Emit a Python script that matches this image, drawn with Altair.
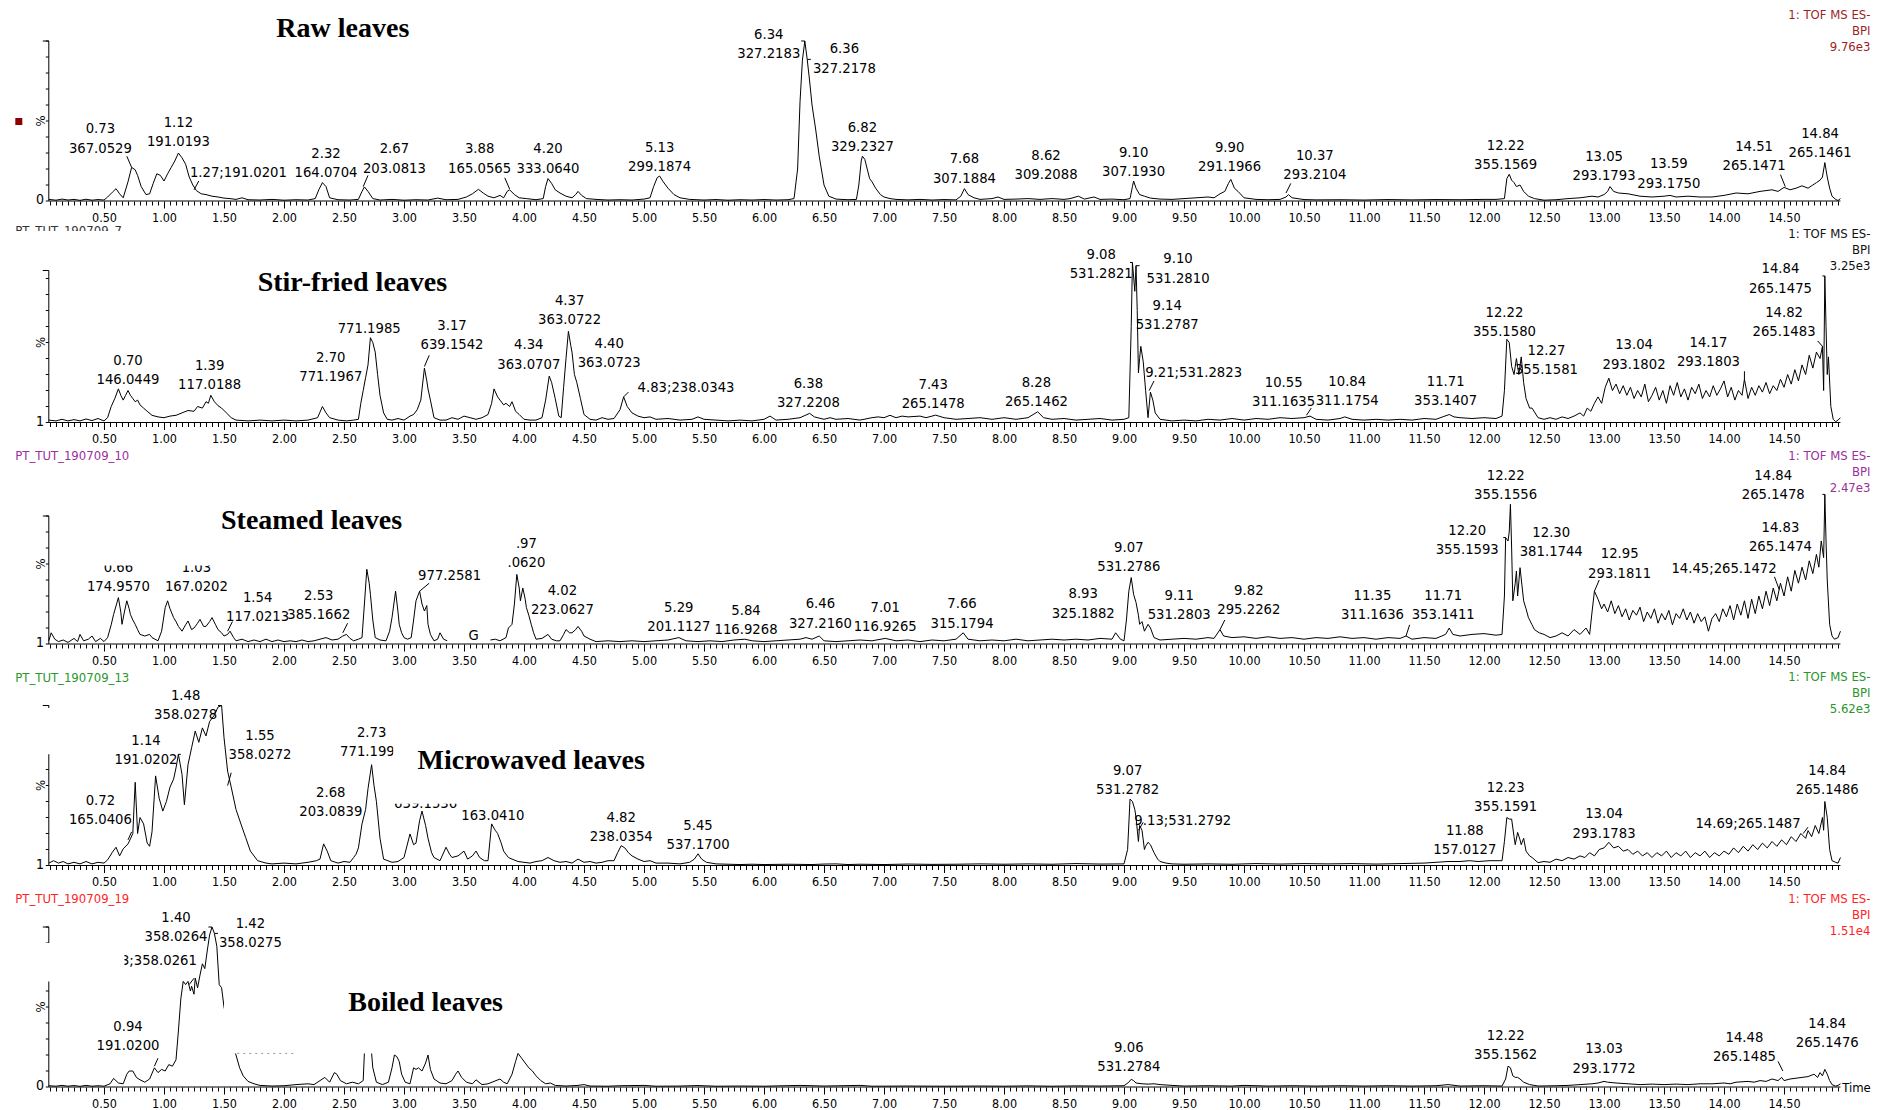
import altair as alt
import pandas as pd

# ---------------- data ----------------
RAW = [(0.04,1.0),(0.1,0.5),(0.15,1.2),(0.2,0.6),(0.25,1.0),(0.3,0.4),(0.35,1.1),(0.4,0.5),(0.45,0.9),(0.5,0.6),(0.53,2.5),(0.57,5.5),(0.6,7.7),(0.63,4.5),(0.66,2.0),(0.7,12.0),(0.73,21.0),(0.76,19.5),(0.78,16.0),(0.81,9.0),(0.85,4.0),(0.88,4.5),(0.91,11.0),(0.94,17.0),(0.97,16.0),(1.0,12.5),(1.03,17.0),(1.06,21.0),(1.09,25.0),(1.12,30.0),(1.15,27.0),(1.18,23.0),(1.21,15.0),(1.24,10.0),(1.27,6.5),(1.31,4.5),(1.35,4.0),(1.4,3.0),(1.45,2.5),(1.5,1.8),(1.55,1.5),(1.6,1.0),(1.65,2.0),(1.7,0.8),(1.8,0.6),(1.9,1.0),(2.0,0.5),(2.1,0.8),(2.2,0.6),(2.26,1.5),(2.29,7.0),(2.32,11.5),(2.35,9.0),(2.38,2.0),(2.45,0.8),(2.55,0.6),(2.62,1.0),(2.65,6.0),(2.67,8.8),(2.7,6.0),(2.74,1.5),(2.8,0.6),(2.9,1.0),(3.0,0.5),(3.1,0.8),(3.2,0.6),(3.28,1.8),(3.35,0.8),(3.45,1.0),(3.52,2.5),(3.57,4.5),(3.62,7.3),(3.66,5.0),(3.7,3.0),(3.75,2.0),(3.8,3.5),(3.83,2.0),(3.86,6.0),(3.88,7.0),(3.92,4.0),(3.96,2.0),(4.02,1.5),(4.1,0.8),(4.16,1.5),(4.18,9.0),(4.2,14.0),(4.23,11.0),(4.26,7.0),(4.3,5.0),(4.35,3.0),(4.4,2.0),(4.43,4.0),(4.45,6.0),(4.48,3.5),(4.52,1.5),(4.6,1.0),(4.7,0.6),(4.8,0.8),(4.9,0.6),(5.0,1.2),(5.05,2.0),(5.08,9.0),(5.11,14.6),(5.13,15.6),(5.16,12.0),(5.2,8.0),(5.25,4.0),(5.3,2.0),(5.38,1.0),(5.5,0.6),(5.6,0.9),(5.7,0.5),(5.8,0.8),(5.9,0.6),(6.0,0.9),(6.1,0.6),(6.2,0.8),(6.25,1.5),(6.28,20.0),(6.3,62.0),(6.32,88.0),(6.34,100.0),(6.36,88.5),(6.38,75.0),(6.4,60.0),(6.43,45.0),(6.46,28.0),(6.5,10.0),(6.54,3.0),(6.6,1.2),(6.7,0.8),(6.77,1.0),(6.79,10.0),(6.81,25.0),(6.82,28.0),(6.84,26.0),(6.86,20.0),(6.88,14.0),(6.9,12.0),(6.93,8.0),(6.97,4.0),(7.0,2.5),(7.05,1.5),(7.1,1.0),(7.2,0.7),(7.3,1.0),(7.4,0.6),(7.5,0.9),(7.6,0.7),(7.64,3.0),(7.67,7.7),(7.7,4.0),(7.75,2.0),(7.8,1.0),(7.9,1.5),(7.95,2.5),(8.0,1.0),(8.1,1.2),(8.2,1.5),(8.3,1.0),(8.4,1.5),(8.5,1.0),(8.55,1.5),(8.62,3.0),(8.67,1.2),(8.75,2.5),(8.8,1.0),(8.9,1.2),(9.0,0.8),(9.05,1.5),(9.07,9.0),(9.08,12.5),(9.1,8.0),(9.13,4.0),(9.17,3.0),(9.22,1.8),(9.3,1.2),(9.4,1.0),(9.5,1.5),(9.6,2.0),(9.7,2.5),(9.75,2.0),(9.8,4.5),(9.84,6.0),(9.87,11.0),(9.89,13.5),(9.92,8.0),(9.95,6.0),(10.0,2.0),(10.1,1.0),(10.2,0.8),(10.3,1.0),(10.35,2.5),(10.37,4.0),(10.4,2.0),(10.5,0.9),(10.6,0.7),(10.8,0.8),(11.0,0.6),(11.2,0.9),(11.4,0.7),(11.6,0.9),(11.8,0.8),(12.0,1.0),(12.1,1.0),(12.17,1.5),(12.19,14.0),(12.21,16.7),(12.23,13.0),(12.25,11.5),(12.27,9.0),(12.3,10.0),(12.33,6.0),(12.37,3.0),(12.42,1.5),(12.5,0.5),(12.6,0.8),(12.7,1.5),(12.8,2.0),(12.9,3.0),(12.95,2.5),(13.0,4.0),(13.03,6.0),(13.05,9.0),(13.08,6.0),(13.12,5.0),(13.2,4.5),(13.3,3.0),(13.4,2.5),(13.5,3.0),(13.55,3.5),(13.6,2.5),(13.7,3.0),(13.8,2.5),(13.9,2.5),(14.0,3.5),(14.1,5.0),(14.2,4.5),(14.3,6.0),(14.4,7.0),(14.45,6.0),(14.5,8.5),(14.55,7.0),(14.6,8.0),(14.65,9.5),(14.7,8.0),(14.74,10.0),(14.77,11.5),(14.8,13.0),(14.82,15.0),(14.84,24.0),(14.86,15.0),(14.88,8.0),(14.9,3.0),(14.93,1.0),(14.95,0.3),(14.97,1.5)]

STIR = [(0.04,1.5),(0.1,1.0),(0.15,2.0),(0.2,1.0),(0.25,1.8),(0.3,1.0),(0.35,2.2),(0.4,1.2),(0.45,2.5),(0.5,1.0),(0.53,3.0),(0.56,10.0),(0.59,15.0),(0.62,21.0),(0.64,17.0),(0.66,14.0),(0.68,17.0),(0.7,20.0),(0.72,17.0),(0.74,15.0),(0.76,13.0),(0.78,14.0),(0.8,11.0),(0.83,9.0),(0.86,7.0),(0.9,4.5),(0.95,3.5),(1.0,3.0),(1.05,4.0),(1.1,4.5),(1.15,6.0),(1.2,7.5),(1.25,7.0),(1.28,10.0),(1.32,9.0),(1.35,13.0),(1.37,12.0),(1.39,17.0),(1.42,13.0),(1.45,10.5),(1.48,9.0),(1.52,6.0),(1.56,3.0),(1.6,1.5),(1.7,1.0),(1.8,1.5),(1.9,1.0),(2.0,1.5),(2.1,1.0),(2.2,1.5),(2.28,3.0),(2.3,6.5),(2.32,10.0),(2.35,6.0),(2.38,3.0),(2.45,1.5),(2.52,1.0),(2.58,1.5),(2.62,2.0),(2.64,12.0),(2.66,20.0),(2.68,28.0),(2.7,36.0),(2.72,53.0),(2.74,50.0),(2.76,44.0),(2.78,30.0),(2.8,17.0),(2.83,6.0),(2.86,2.0),(2.9,1.5),(2.95,2.5),(3.0,1.5),(3.05,4.0),(3.08,5.0),(3.11,8.0),(3.14,14.0),(3.17,34.0),(3.19,26.0),(3.2,21.0),(3.22,14.0),(3.25,3.0),(3.3,1.5),(3.35,1.5),(3.4,3.0),(3.45,2.0),(3.5,4.0),(3.55,3.0),(3.6,2.0),(3.65,3.0),(3.7,5.0),(3.73,12.0),(3.75,21.0),(3.78,16.0),(3.8,14.0),(3.83,11.0),(3.85,12.0),(3.88,10.0),(3.9,13.0),(3.93,7.0),(3.96,5.0),(4.0,2.0),(4.05,1.5),(4.1,1.5),(4.15,3.0),(4.18,14.0),(4.21,29.0),(4.23,25.0),(4.26,15.0),(4.29,4.0),(4.31,3.0),(4.33,22.0),(4.35,40.0),(4.37,57.0),(4.39,48.0),(4.4,44.0),(4.42,30.0),(4.44,25.0),(4.47,15.0),(4.5,5.0),(4.55,2.0),(4.6,1.5),(4.65,3.0),(4.7,2.0),(4.75,2.5),(4.8,8.0),(4.83,16.0),(4.86,10.0),(4.9,6.0),(4.95,4.0),(5.0,3.0),(5.05,3.5),(5.1,2.0),(5.2,2.5),(5.3,1.5),(5.4,2.0),(5.45,3.5),(5.5,2.0),(5.6,1.5),(5.7,1.0),(5.8,1.5),(5.9,1.0),(6.0,2.0),(6.05,4.0),(6.1,1.5),(6.2,2.0),(6.3,3.0),(6.38,5.7),(6.42,3.5),(6.5,2.0),(6.55,3.0),(6.6,2.0),(6.7,2.5),(6.8,1.5),(6.9,3.0),(6.95,3.5),(7.0,3.0),(7.05,4.5),(7.1,3.0),(7.15,4.0),(7.2,3.5),(7.3,4.0),(7.35,3.0),(7.43,4.6),(7.5,3.0),(7.6,2.0),(7.7,2.5),(7.8,3.0),(7.9,2.0),(8.0,3.0),(8.1,2.0),(8.2,3.0),(8.28,6.7),(8.33,3.0),(8.4,2.0),(8.5,2.5),(8.6,1.5),(8.7,2.0),(8.8,2.5),(8.9,1.5),(9.0,2.0),(9.04,3.0),(9.06,60.0),(9.07,100.0),(9.09,82.0),(9.1,98.0),(9.11,70.0),(9.12,31.0),(9.13,40.0),(9.14,47.6),(9.16,38.0),(9.18,20.0),(9.2,3.0),(9.22,19.0),(9.24,14.0),(9.26,6.0),(9.3,2.0),(9.4,1.0),(9.5,1.5),(9.6,1.0),(9.7,2.0),(9.8,1.5),(9.9,2.5),(10.0,1.5),(10.1,2.5),(10.2,2.0),(10.3,3.0),(10.4,2.5),(10.5,3.0),(10.55,4.0),(10.6,2.0),(10.7,1.5),(10.8,2.5),(10.84,3.5),(10.9,2.0),(11.0,1.5),(11.1,2.0),(11.2,1.5),(11.3,2.0),(11.4,1.5),(11.5,2.5),(11.6,2.0),(11.71,5.0),(11.75,3.5),(11.8,3.0),(11.9,2.5),(12.0,3.0),(12.1,2.5),(12.15,4.0),(12.17,20.0),(12.19,52.0),(12.21,50.0),(12.23,35.0),(12.25,30.0),(12.27,40.0),(12.29,30.0),(12.31,41.0),(12.33,25.0),(12.35,15.0),(12.38,9.0),(12.4,9.0),(12.45,3.0),(12.5,2.0),(12.55,3.0),(12.6,2.0),(12.65,3.5),(12.7,2.5),(12.75,4.0),(12.8,6.0),(12.83,4.0),(12.86,9.0),(12.89,7.0),(12.92,12.0),(12.95,16.0),(12.98,12.0),(13.01,22.0),(13.04,27.7),(13.07,20.0),(13.1,24.0),(13.13,18.0),(13.16,23.0),(13.19,17.0),(13.22,22.0),(13.25,15.0),(13.28,20.0),(13.31,16.0),(13.34,24.0),(13.37,13.0),(13.4,17.0),(13.43,22.0),(13.46,14.0),(13.49,20.0),(13.52,12.0),(13.55,23.0),(13.58,17.0),(13.61,25.0),(13.64,16.0),(13.67,21.0),(13.7,14.0),(13.73,22.0),(13.76,18.0),(13.79,24.0),(13.82,15.0),(13.85,20.0),(13.88,16.0),(13.91,23.0),(13.94,17.0),(13.97,21.0),(14.0,26.0),(14.03,16.0),(14.06,22.0),(14.09,14.0),(14.12,20.0),(14.15,17.0),(14.17,27.0),(14.2,15.0),(14.23,22.0),(14.26,17.0),(14.29,23.0),(14.32,19.0),(14.35,25.0),(14.38,18.0),(14.41,23.0),(14.44,20.0),(14.47,27.0),(14.5,22.0),(14.53,30.0),(14.56,24.0),(14.59,33.0),(14.62,26.0),(14.65,36.0),(14.68,30.0),(14.71,42.0),(14.74,34.0),(14.77,44.0),(14.8,40.0),(14.82,47.6),(14.83,20.0),(14.84,91.6),(14.85,60.0),(14.86,30.0),(14.87,41.0),(14.89,10.0),(14.91,2.0),(14.93,0.5),(14.95,1.5),(14.97,3.0)]

STEAM_A = [(0.04,2.0),(0.06,7.0),(0.09,3.0),(0.12,1.5),(0.16,2.5),(0.2,1.0),(0.25,3.5),(0.28,1.5),(0.3,6.0),(0.33,2.0),(0.37,3.0),(0.4,5.0),(0.43,1.5),(0.47,3.5),(0.5,1.5),(0.53,4.0),(0.56,12.0),(0.58,18.5),(0.62,29.0),(0.64,20.0),(0.65,12.3),(0.67,20.0),(0.69,27.0),(0.71,22.0),(0.72,18.5),(0.74,15.0),(0.76,12.3),(0.78,9.0),(0.8,6.0),(0.84,5.0),(0.88,6.0),(0.9,4.0),(0.95,2.0),(0.98,8.0),(1.01,22.7),(1.03,27.0),(1.05,22.0),(1.08,16.5),(1.1,14.0),(1.12,11.0),(1.15,8.0),(1.18,12.0),(1.2,14.4),(1.23,9.0),(1.25,10.0),(1.28,13.0),(1.3,15.4),(1.33,11.0),(1.35,11.0),(1.38,14.0),(1.4,16.5),(1.43,12.0),(1.45,9.0),(1.48,7.0),(1.5,5.0),(1.53,6.0),(1.55,8.0),(1.58,4.0),(1.6,2.0),(1.65,3.0),(1.7,1.5),(1.75,2.5),(1.8,1.5),(1.85,3.0),(1.9,1.5),(1.95,2.5),(2.0,1.5),(2.05,2.0),(2.1,1.5),(2.15,2.5),(2.2,1.5),(2.25,2.0),(2.3,3.0),(2.35,4.0),(2.4,2.5),(2.45,3.0),(2.49,5.0),(2.52,6.0),(2.55,3.5),(2.58,2.0),(2.62,3.0),(2.65,4.0),(2.67,25.0),(2.69,46.7),(2.71,38.0),(2.72,31.0),(2.74,15.0),(2.76,4.0),(2.8,2.5),(2.85,2.0),(2.88,8.0),(2.9,16.5),(2.93,33.0),(2.95,20.0),(2.96,12.3),(2.98,7.0),(3.0,4.0),(3.03,3.0),(3.06,4.0),(3.08,15.0),(3.1,27.0),(3.13,33.0),(3.15,25.0),(3.17,20.6),(3.19,24.0),(3.2,12.3),(3.22,6.0),(3.25,2.0),(3.28,3.0),(3.3,7.0),(3.33,3.0),(3.36,2.0)]

STEAM_B = [(3.72,2.5),(3.76,3.0),(3.8,2.0),(3.85,4.0),(3.87,10.0),(3.9,12.3),(3.92,25.0),(3.94,43.5),(3.96,35.0),(3.97,27.0),(3.99,35.0),(4.01,28.0),(4.02,22.7),(4.04,18.0),(4.06,12.3),(4.08,7.0),(4.1,3.0),(4.15,3.5),(4.2,6.0),(4.23,3.0),(4.27,2.0),(4.3,2.0),(4.33,6.0),(4.35,9.0),(4.38,7.0),(4.4,7.0),(4.43,9.0),(4.45,11.0),(4.48,8.0),(4.5,5.0),(4.55,3.0),(4.6,1.5),(4.7,2.0),(4.8,1.5),(4.9,2.0),(5.0,1.5),(5.1,2.0),(5.2,2.5),(5.29,4.0),(5.35,2.0),(5.45,1.5),(5.55,2.0),(5.65,1.5),(5.75,2.5),(5.84,3.0),(5.9,2.0),(6.0,1.5),(6.1,2.0),(6.2,2.5),(6.3,3.0),(6.35,4.0),(6.4,3.0),(6.46,5.0),(6.5,2.0),(6.6,1.5),(6.7,2.0),(6.8,2.5),(6.9,2.0),(7.01,3.5),(7.1,2.0),(7.2,2.5),(7.3,1.5),(7.4,2.5),(7.5,2.0),(7.6,3.0),(7.66,7.0),(7.7,3.0),(7.8,2.0),(7.9,2.5),(8.0,2.0),(8.1,3.0),(8.2,2.0),(8.3,2.5),(8.4,3.0),(8.5,2.5),(8.6,3.0),(8.7,2.5),(8.8,3.5),(8.9,3.0),(8.93,7.0),(8.97,3.0),(9.0,2.0),(9.02,15.0),(9.04,33.0),(9.06,41.5),(9.08,31.0),(9.1,26.0),(9.12,18.0),(9.13,12.3),(9.15,14.0),(9.17,8.0),(9.2,12.3),(9.22,10.0),(9.25,4.0),(9.3,2.5),(9.4,3.0),(9.5,3.5),(9.6,3.0),(9.7,4.0),(9.75,3.5),(9.8,9.0),(9.83,5.0),(9.9,4.0),(10.0,4.5),(10.1,3.5),(10.2,4.5),(10.3,3.5),(10.4,4.0),(10.5,3.0),(10.6,4.0),(10.7,3.5),(10.8,4.5),(10.9,3.5),(11.0,4.0),(11.1,3.0),(11.2,4.0),(11.3,3.5),(11.35,5.0),(11.4,3.0),(11.5,4.0),(11.6,3.5),(11.68,6.0),(11.71,10.0),(11.74,6.0),(11.8,5.0),(11.9,6.0),(12.0,6.5),(12.1,5.5),(12.15,6.0),(12.17,30.0),(12.18,66.5),(12.2,64.4),(12.21,70.0),(12.22,87.3),(12.23,60.0),(12.24,27.0),(12.26,38.0),(12.27,45.6),(12.28,30.0),(12.3,47.7),(12.33,27.0),(12.35,22.0),(12.37,16.5),(12.4,12.0),(12.42,9.0),(12.46,7.0),(12.5,6.0),(12.55,4.0),(12.6,5.0),(12.65,7.0),(12.7,5.0),(12.75,9.0),(12.8,6.0),(12.85,10.0),(12.88,6.0),(12.9,20.0),(12.92,33.0),(12.95,28.0),(12.98,22.0),(13.0,25.0),(13.03,20.0),(13.06,27.0),(13.09,19.0),(13.12,24.0),(13.15,17.0),(13.18,22.0),(13.21,15.0),(13.24,21.0),(13.27,18.0),(13.3,23.0),(13.33,14.0),(13.36,20.0),(13.39,16.0),(13.42,22.0),(13.45,13.0),(13.48,19.0),(13.51,15.0),(13.54,21.0),(13.57,12.0),(13.6,19.0),(13.63,16.0),(13.66,22.0),(13.69,15.0),(13.72,20.0),(13.75,13.0),(13.78,19.0),(13.81,14.0),(13.84,17.0),(13.87,8.0),(13.9,16.0),(13.93,19.0),(13.96,14.0),(13.99,22.0),(14.02,17.0),(14.05,24.0),(14.08,15.0),(14.11,25.0),(14.14,18.0),(14.17,27.0),(14.2,16.0),(14.23,28.0),(14.26,19.0),(14.29,30.0),(14.32,22.0),(14.35,33.0),(14.38,24.0),(14.41,35.0),(14.44,27.0),(14.47,38.0),(14.5,30.0),(14.53,42.0),(14.56,33.0),(14.59,46.0),(14.62,38.0),(14.65,48.0),(14.68,40.0),(14.71,52.0),(14.74,44.0),(14.77,56.0),(14.79,48.0),(14.81,64.4),(14.83,54.0),(14.84,93.5),(14.85,64.4),(14.86,40.0),(14.88,12.3),(14.9,5.0),(14.92,3.0),(14.95,4.0),(14.97,8.0)]

MICRO = [(0.04,1.5),(0.08,3.0),(0.12,1.5),(0.16,2.5),(0.2,1.0),(0.25,2.0),(0.3,1.0),(0.35,2.5),(0.4,1.0),(0.45,2.0),(0.5,1.5),(0.53,3.5),(0.57,8.3),(0.6,11.4),(0.63,6.0),(0.66,10.4),(0.7,13.5),(0.72,16.6),(0.74,20.0),(0.76,52.0),(0.78,20.0),(0.8,30.0),(0.83,26.0),(0.86,14.0),(0.88,12.0),(0.9,21.0),(0.93,56.0),(0.96,42.0),(0.99,34.0),(1.02,40.0),(1.05,49.0),(1.08,54.0),(1.1,61.0),(1.12,69.5),(1.15,57.0),(1.17,38.0),(1.2,63.0),(1.23,73.6),(1.26,84.0),(1.29,77.0),(1.32,86.0),(1.35,81.0),(1.38,90.0),(1.42,94.0),(1.45,99.0),(1.48,100.0),(1.5,80.0),(1.53,59.0),(1.56,49.0),(1.6,35.0),(1.65,24.0),(1.68,17.6),(1.72,9.0),(1.78,3.0),(1.85,1.5),(1.9,1.0),(2.0,1.5),(2.1,1.0),(2.2,2.0),(2.27,3.0),(2.3,4.0),(2.33,13.5),(2.36,9.0),(2.39,3.0),(2.45,1.5),(2.5,2.5),(2.55,2.0),(2.58,5.0),(2.6,7.0),(2.62,11.0),(2.65,26.0),(2.68,35.0),(2.7,48.0),(2.73,63.0),(2.75,50.0),(2.77,40.0),(2.8,17.0),(2.83,4.0),(2.9,2.0),(2.95,2.5),(3.0,5.0),(3.05,19.7),(3.08,13.0),(3.1,14.0),(3.13,28.0),(3.15,34.0),(3.18,25.0),(3.2,17.0),(3.23,8.0),(3.25,5.0),(3.3,3.0),(3.35,11.4),(3.38,7.0),(3.4,5.0),(3.45,6.0),(3.5,9.0),(3.53,4.0),(3.57,6.0),(3.6,9.0),(3.63,5.0),(3.67,3.0),(3.7,3.0),(3.73,26.0),(3.76,22.0),(3.78,20.0),(3.81,14.0),(3.83,9.0),(3.87,5.0),(3.9,4.0),(3.95,2.5),(4.0,2.0),(4.05,1.5),(4.1,2.5),(4.15,3.0),(4.2,5.0),(4.25,3.0),(4.3,2.0),(4.35,2.5),(4.4,1.5),(4.45,4.0),(4.5,2.0),(4.55,2.5),(4.6,1.5),(4.65,2.0),(4.7,3.0),(4.75,3.0),(4.78,8.0),(4.81,12.4),(4.84,11.0),(4.87,8.0),(4.9,6.0),(4.95,4.0),(5.0,2.5),(5.05,3.0),(5.1,1.5),(5.2,1.5),(5.3,1.0),(5.38,2.0),(5.42,4.0),(5.45,7.3),(5.48,4.0),(5.52,2.0),(5.6,1.0),(5.7,0.8),(5.8,0.6),(5.9,0.8),(6.0,0.6),(6.2,0.8),(6.4,0.6),(6.5,0.9),(6.6,1.0),(6.7,0.6),(6.8,0.8),(7.0,0.6),(7.2,0.9),(7.4,0.7),(7.6,0.8),(7.8,1.0),(8.0,0.8),(8.2,1.0),(8.4,0.8),(8.6,1.2),(8.8,0.9),(9.0,1.0),(9.03,10.0),(9.05,41.5),(9.07,40.0),(9.09,35.0),(9.1,30.0),(9.12,15.0),(9.13,25.0),(9.15,22.0),(9.17,10.0),(9.18,12.0),(9.2,14.5),(9.22,13.0),(9.25,8.0),(9.28,4.0),(9.3,2.5),(9.35,1.5),(9.4,1.0),(9.5,0.8),(9.7,1.0),(9.9,0.8),(10.1,1.2),(10.3,0.9),(10.5,1.2),(10.7,1.0),(10.9,1.2),(11.1,0.9),(11.3,1.2),(11.5,1.5),(11.6,2.0),(11.7,2.5),(11.8,2.5),(11.88,3.0),(11.95,2.5),(12.05,3.0),(12.15,3.0),(12.17,15.0),(12.19,30.0),(12.21,29.0),(12.23,29.0),(12.25,18.0),(12.26,13.0),(12.28,20.7),(12.3,16.0),(12.31,13.0),(12.33,17.0),(12.35,9.0),(12.38,6.0),(12.4,5.0),(12.45,1.8),(12.5,2.5),(12.55,2.0),(12.6,4.0),(12.65,3.0),(12.7,5.0),(12.75,4.0),(12.8,6.0),(12.84,5.0),(12.88,8.0),(12.92,6.0),(12.96,10.0),(13.0,11.0),(13.04,14.5),(13.08,11.0),(13.12,12.0),(13.16,9.0),(13.2,10.0),(13.24,7.0),(13.28,9.0),(13.32,6.0),(13.36,8.0),(13.4,5.0),(13.44,8.0),(13.48,6.0),(13.52,9.0),(13.56,5.0),(13.6,8.0),(13.64,6.0),(13.68,9.0),(13.72,5.0),(13.76,8.0),(13.8,6.0),(13.84,9.0),(13.88,5.0),(13.92,8.0),(13.96,6.0),(14.0,9.0),(14.04,7.0),(14.08,11.0),(14.12,8.0),(14.16,12.0),(14.2,9.0),(14.24,13.0),(14.28,10.0),(14.32,14.0),(14.36,11.0),(14.4,15.0),(14.44,12.0),(14.48,16.0),(14.52,13.0),(14.56,18.0),(14.6,15.0),(14.64,20.0),(14.68,17.0),(14.7,21.8),(14.73,18.0),(14.76,25.0),(14.79,20.0),(14.82,30.0),(14.83,22.0),(14.84,40.0),(14.86,30.0),(14.88,10.0),(14.9,3.0),(14.93,2.0),(14.95,1.5),(14.97,5.0)]

BOIL = [(0.04,0.8),(0.1,0.5),(0.15,1.0),(0.2,0.5),(0.25,0.9),(0.3,0.4),(0.35,1.0),(0.4,0.5),(0.45,0.8),(0.5,0.5),(0.55,2.0),(0.58,5.4),(0.62,2.5),(0.66,2.0),(0.69,8.0),(0.71,10.0),(0.74,10.0),(0.77,6.0),(0.8,4.5),(0.84,3.0),(0.88,5.0),(0.92,12.0),(0.95,9.0),(0.98,11.0),(1.01,10.0),(1.04,14.0),(1.07,13.0),(1.1,17.0),(1.12,35.0),(1.14,55.0),(1.16,66.0),(1.18,64.0),(1.2,66.0),(1.22,60.0),(1.23,63.0),(1.25,58.0),(1.26,68.0),(1.28,62.0),(1.3,70.0),(1.32,77.0),(1.34,74.0),(1.36,85.0),(1.38,95.0),(1.4,100.0),(1.42,96.0),(1.44,88.0),(1.46,64.0),(1.48,62.0),(1.5,50.0),(1.53,40.0),(1.56,30.0),(1.6,20.0),(1.63,12.0),(1.66,7.0),(1.7,3.5),(1.75,2.0),(1.8,1.0),(1.9,0.6),(2.0,0.8),(2.1,1.5),(2.2,2.0),(2.25,1.5),(2.3,4.0),(2.34,6.0),(2.38,3.0),(2.42,9.0),(2.44,8.0),(2.47,4.0),(2.52,2.0),(2.57,3.0),(2.62,2.0),(2.66,4.0),(2.68,39.0),(2.7,42.0),(2.72,30.0),(2.74,12.0),(2.77,3.0),(2.82,1.5),(2.87,3.0),(2.9,12.0),(2.92,20.0),(2.94,19.0),(2.96,16.0),(2.98,8.0),(3.01,3.0),(3.05,2.0),(3.08,12.0),(3.1,11.0),(3.12,12.0),(3.15,10.0),(3.18,15.0),(3.2,20.0),(3.22,11.0),(3.25,5.0),(3.3,2.5),(3.35,2.0),(3.4,4.0),(3.43,8.0),(3.45,10.0),(3.48,6.0),(3.52,3.0),(3.57,2.0),(3.6,4.5),(3.65,1.5),(3.7,2.0),(3.75,3.5),(3.8,5.0),(3.83,3.0),(3.86,2.0),(3.9,8.0),(3.93,16.0),(3.95,21.0),(3.98,18.0),(4.01,15.0),(4.04,12.0),(4.07,10.0),(4.1,7.0),(4.14,4.0),(4.18,2.0),(4.22,2.5),(4.26,1.0),(4.35,0.6),(4.45,1.0),(4.5,1.5),(4.55,0.6),(4.7,0.5),(4.8,0.8),(5.0,1.0),(5.1,0.5),(5.3,0.6),(5.45,0.9),(5.6,0.5),(5.8,0.6),(6.0,0.5),(6.3,1.0),(6.5,0.6),(6.8,1.0),(6.9,0.5),(7.2,0.6),(7.5,0.5),(7.8,0.6),(8.0,0.5),(8.2,0.7),(8.4,0.5),(8.6,0.7),(8.8,0.6),(9.0,0.8),(9.04,3.0),(9.06,4.8),(9.08,4.0),(9.1,2.5),(9.15,2.0),(9.2,1.8),(9.25,2.0),(9.3,1.5),(9.4,1.0),(9.5,0.6),(9.7,0.8),(9.9,0.6),(10.0,1.0),(10.2,0.6),(10.4,0.8),(10.6,0.6),(10.8,0.8),(11.0,0.6),(11.2,0.8),(11.4,0.6),(11.6,0.8),(11.7,1.5),(11.8,0.6),(12.0,0.8),(12.15,0.6),(12.18,5.0),(12.2,13.0),(12.22,12.0),(12.24,7.0),(12.26,6.0),(12.28,6.0),(12.3,5.0),(12.33,3.0),(12.38,1.5),(12.45,0.6),(12.6,0.8),(12.7,1.0),(12.8,1.5),(12.9,2.0),(12.95,2.5),(13.0,3.5),(13.03,3.0),(13.1,2.5),(13.2,2.0),(13.3,1.5),(13.4,1.8),(13.5,1.5),(13.6,1.8),(13.7,1.5),(13.8,2.0),(13.9,2.0),(14.0,2.5),(14.05,2.0),(14.1,3.0),(14.2,3.5),(14.25,3.0),(14.3,4.0),(14.35,3.5),(14.4,5.0),(14.45,4.0),(14.48,6.0),(14.5,4.0),(14.55,5.0),(14.6,5.5),(14.65,6.0),(14.7,6.5),(14.75,8.0),(14.78,6.0),(14.8,9.0),(14.82,7.0),(14.84,11.0),(14.86,8.0),(14.88,4.0),(14.9,1.5),(14.93,0.5),(14.95,1.0),(14.97,2.0)]

# peak labels: (time position, % height of first line, first line, second line)
RAW_LABELS = [(0.47,44.8,"0.73","367.0529"),(1.12,49.0,"1.12","191.0193"),(1.62,17.3,"1.27;191.0201",None),
    (2.35,29.2,"2.32","164.0704"),(2.92,32.3,"2.67","203.0813"),(3.63,32.3,"3.88","165.0565"),
    (4.20,32.3,"4.20","333.0640"),(5.13,33.3,"5.13","299.1874"),(6.04,104.0,"6.34","327.2183"),
    (6.67,94.8,"6.36","327.2178"),(6.82,45.8,"6.82","329.2327"),(7.67,26.0,"7.68","307.1884"),
    (8.35,28.0,"8.62","309.2088"),(9.08,30.0,"9.10","307.1930"),(9.88,33.3,"9.90","291.1966"),
    (10.59,28.0,"10.37","293.2104"),(12.18,34.4,"12.22","355.1569"),(13.0,27.5,"13.05","293.1793"),
    (13.54,22.9,"13.59","293.1750"),(14.25,33.75,"14.51","265.1471"),(14.80,41.7,"14.84","265.1461")]
STIR_LABELS = [(0.70,38.4,"0.70","146.0449"),(1.38,35.3,"1.39","117.0188"),(2.39,40.5,"2.70","771.1967"),
    (2.71,58.6,"771.1985",None),(3.40,60.3,"3.17","639.1542"),(4.04,48.2,"4.34","363.0707"),
    (4.38,75.9,"4.37","363.0722"),(4.71,48.9,"4.40","363.0723"),(5.35,21.8,"4.83;238.0343",None),
    (6.37,23.9,"6.38","327.2208"),(7.41,23.6,"7.43","265.1478"),(8.27,24.9,"8.28","265.1462"),
    (8.81,105.0,"9.08","531.2821"),(9.45,102.0,"9.10","531.2810"),(9.36,72.8,"9.14","531.2787"),
    (9.58,31.1,"9.21;531.2823",None),(10.33,24.9,"10.55","311.1635"),(10.86,25.3,"10.84","311.1754"),
    (11.68,25.3,"11.71","353.1407"),(12.17,68.6,"12.22","355.1580"),(12.52,44.7,"12.27","355.1581"),
    (13.25,48.2,"13.04","293.1802"),(13.87,49.9,"14.17","293.1803"),(14.47,95.7,"14.84","265.1475"),
    (14.50,68.6,"14.82","265.1483")]
STEAM_LABELS = [(0.62,47.7,"0.66","174.9570"),(1.27,47.7,"1.03","167.0202"),(1.78,29.0,"1.54","117.0213"),
    (2.29,30.0,"2.53","385.1662"),(3.38,42.5,"977.2581",None),(4.02,62.7,".97",".0620"),
    (4.32,33.1,"4.02","223.0627"),(5.29,22.7,"5.29","201.1127"),(5.85,20.6,"5.84","116.9268"),
    (6.47,24.8,"6.46","327.2160"),(7.01,22.7,"7.01","116.9265"),(7.65,24.8,"7.66","315.1794"),
    (8.66,31.0,"8.93","325.1882"),(9.04,60.2,"9.07","531.2786"),(9.46,30.0,"9.11","531.2803"),
    (10.04,33.1,"9.82","295.2262"),(11.07,30.0,"11.35","311.1636"),(11.66,30.0,"11.71","353.1411"),
    (11.86,70.6,"12.20","355.1593"),(12.18,105.0,"12.22","355.1556"),(12.56,69.6,"12.30","381.1744"),
    (13.13,56.0,"12.95","293.1811"),(14.0,46.7,"14.45;265.1472",None),(14.41,105.0,"14.84","265.1478"),
    (14.47,72.7,"14.83","265.1474"),(3.58,5.0,"G",None)]
MICRO_LABELS = [(0.47,40.3,"0.72","165.0406"),(0.85,77.8,"1.14","191.0202"),(1.18,106.0,"1.48","358.0278"),
    (1.80,81.0,"1.55","358.0272"),(2.39,45.5,"2.68","203.0839"),(2.73,83.0,"2.73","771.1992"),
    (3.18,38.2,"639.1536",None),(3.74,30.9,"163.0410",None),(4.81,29.9,"4.82","238.0354"),
    (5.45,24.7,"5.45","537.1700"),(9.03,59.0,"9.07","531.2782"),(9.49,27.8,"9.13;531.2792",None),
    (11.84,21.6,"11.88","157.0127"),(12.18,48.6,"12.23","355.1591"),(13.0,32.0,"13.04","293.1783"),
    (14.2,25.7,"14.69;265.1487",None),(14.86,59.0,"14.84","265.1486")]
BOIL_LABELS = [(0.70,37.5,"0.94","191.0200"),(1.10,105.8,"1.40","358.0264"),(1.72,101.7,"1.42","358.0275"),
    (0.87,78.75,"1.13;358.0261",None),(9.04,24.6,"9.06","531.2784"),(12.18,31.9,"12.22","355.1562"),
    (13.0,23.5,"13.03","293.1772"),(14.17,30.8,"14.48","265.1485"),(14.86,39.2,"14.84","265.1476")]

# leader lines from labels to peaks: (t1, v1, t2, v2)
RAW_LEADERS = [(0.69,28.0,0.73,21.0),(1.25,7.0,1.29,12.5),(2.66,9.0,2.70,16.0),(3.84,14.5,3.88,7.5),
    (10.35,5.0,10.39,11.0),(14.47,16.5,14.51,9.0),(6.31,100.0,6.34,100.0),(6.36,88.5,6.39,88.5)]
STIR_LEADERS = [(3.17,35.0,3.21,42.0),(4.83,16.0,4.87,19.0),(9.21,20.0,9.25,26.0),(10.52,4.5,10.56,9.0),
    (14.17,27.0,14.17,32.0),(14.78,51.0,14.82,47.6),(9.05,100.0,9.07,100.0),(9.10,98.0,9.13,98.0),
    (14.84,91.6,14.82,91.6)]
STEAM_LEADERS = [(3.13,33.0,3.21,38.0),(2.49,7.0,2.53,13.0),(1.53,8.0,1.57,14.0),(14.42,42.0,14.46,34.0),
    (12.92,33.0,12.96,40.0),(9.80,9.0,9.84,15.0),(11.35,5.0,11.38,12.0),(12.18,66.5,12.16,66.5),
    (14.84,93.5,14.82,93.5)]
MICRO_LEADERS = [(0.70,16.0,0.73,21.0),(1.53,50.0,1.56,58.0),(9.12,22.0,9.16,27.0),(14.66,20.0,14.70,24.0),
    (1.12,69.5,1.14,69.5),(1.48,100.0,1.45,100.0)]
BOIL_LEADERS = [(0.92,13.0,0.95,18.0),(1.21,64.0,1.25,68.0),(14.45,16.0,14.49,10.0),(1.40,100.0,1.37,100.0),
    (1.42,96.0,1.45,96.0)]

TITLES = ["Raw leaves", "Stir-fried leaves", "Steamed leaves", "Microwaved leaves", "Boiled leaves"]
TITLE_POS = [(2.49,107.3),(2.57,87.4),(2.23,76.9),(4.06,65.3),(3.18,52.7)]
BPI = ["9.76e3", "3.25e3", "2.47e3", "5.62e3", "1.51e4"]
INFO_COLORS = ["#9c1f24", "#111111", "#9b2f9b", "#2a962a", "#ff2424"]
INFO_TOP = [116.3, 117.8, 117.8, 117.8, 117.8]
RUN_IDS = [None, "PT_TUT_190709_7", "PT_TUT_190709_10", "PT_TUT_190709_13", "PT_TUT_190709_19"]
RUN_COLORS = [None, "#333333", "#9b2f9b", "#2a962a", "#ff2424"]
MIN_LABEL = ["0", "1", "1", "1", "0"]
YAXIS_TOP = [100, 95, 80, 100, 100]
TICK_VALUES = [round(0.05 * k, 2) for k in range(1, 300)]

# white masks present in the original figure (t1, t2, v1, v2)
MASKS = [
    [],
    [(-0.3, 1.3, 108.0, 119.7)],
    [(0.3, 1.6, 49.0, 62.0)],
    [(-0.3, 0.2, 69.5, 98.5), (2.91, 5.4, 38.6, 80.0)],
    [(-0.3, 0.67, 66.0, 90.0), (1.5, 3.25, 21.0, 83.0)],
]

# ---------------- layout ----------------
XMIN, XMAX = -0.3, 15.333
YMAX = 120
W, H = 1876, 192
SPACING = 29.5
AX = 0.04
NARROW = "DejaVu Sans Condensed, Liberation Sans, sans-serif"
SERIF = "Liberation Serif, DejaVu Serif, serif"

xs = alt.Scale(domain=[XMIN, XMAX], nice=False, zero=False)
ys = alt.Scale(domain=[0, YMAX], nice=False, zero=False)
MAJOR = "abs(round(datum.value*2) - datum.value*2) < 0.001"
XAX = alt.Axis(values=TICK_VALUES, domain=False, grid=False, title=None,
               labelOverlap=False, labelBound=False, labelFlush=False,
               labelExpr="(" + MAJOR + " && datum.value >= 0.5) ? format(datum.value, '.2f') : ''",
               tickSize={"condition": {"test": MAJOR, "value": 7}, "value": 4},
               tickColor="black", tickWidth=1, labelFont=NARROW, labelFontSize=12.5,
               labelColor="black", labelPadding=3)


def X(f="t"):
    return alt.X(f + ":Q", scale=xs, axis=XAX)


def Y(f="v"):
    return alt.Y(f + ":Q", scale=ys, axis=None)


def text_layer(rows, font, size, align="center", color="black", weight="normal", angle=0):
    return alt.Chart(pd.DataFrame(rows)).mark_text(
        font=font, fontSize=size, align=align, baseline="middle", color=color,
        fontWeight=weight, angle=angle).encode(x=X(), y=Y(), text="s:N")


def label_rows(labels):
    rows = []
    for t, v, a, b in labels:
        rows.append({"t": t, "v": v, "s": a})
        if b:
            rows.append({"t": t, "v": v - 12.0, "s": b})
    return rows


def panel(i, segments, labels, leaders):
    tr = []
    for k, seg in enumerate(segments):
        tr += [{"t": t, "v": v, "seg": k} for t, v in seg]
    layers = []
    layers.append(alt.Chart(pd.DataFrame(tr)).mark_line(color="black", strokeWidth=1).encode(
        x=X(), y=Y(), detail="seg:N"))
    # baseline and y axis
    layers.append(alt.Chart(pd.DataFrame([{"t": AX, "t2": 14.97, "v": 0}])).mark_rule(
        color="black", strokeWidth=1).encode(x=X(), x2="t2:Q", y=Y()))
    layers.append(alt.Chart(pd.DataFrame([{"t": AX, "v": 0, "v2": YAXIS_TOP[i]}])).mark_rule(
        color="black", strokeWidth=1).encode(x=X(), y=Y(), y2="v2:Q"))
    yt = [{"t": AX - 0.025, "t2": AX, "v": k} for k in range(0, YAXIS_TOP[i] + 1, 10)]
    yt.append({"t": AX - 0.05, "t2": AX, "v": YAXIS_TOP[i]})
    layers.append(alt.Chart(pd.DataFrame(yt)).mark_rule(color="black", strokeWidth=1).encode(
        x=X(), x2="t2:Q", y=Y()))
    # leader lines
    ld = [{"t": a, "v": b, "t2": c, "v2": d} for a, b, c, d in leaders]
    layers.append(alt.Chart(pd.DataFrame(ld)).mark_rule(color="black", strokeWidth=1).encode(
        x=X(), y=Y(), x2="t2:Q", y2="v2:Q"))
    # peak labels
    layers.append(text_layer(label_rows(labels), NARROW, 14.7))
    # instrument info
    top = INFO_TOP[i]
    info = [{"t": 15.22, "v": top, "s": "1: TOF MS ES-"}, {"t": 15.22, "v": top - 10.0, "s": "BPI"},
            {"t": 15.22, "v": top - 20.0, "s": BPI[i]}]
    layers.append(text_layer(info, NARROW, 13, align="right", color=INFO_COLORS[i]))
    if RUN_IDS[i]:
        v = 119.7 if i == 1 else 117.5
        layers.append(text_layer([{"t": -0.24, "v": v, "s": RUN_IDS[i]}], NARROW, 13,
                                 align="left", color=RUN_COLORS[i]))
    layers.append(text_layer([{"t": 0.0, "v": 0.5, "s": MIN_LABEL[i]}], NARROW, 14, align="right"))
    layers.append(text_layer([{"t": -0.025, "v": 50, "s": "%"}], NARROW, 13, angle=270))
    if i == 0:
        layers.append(alt.Chart(pd.DataFrame([{"t": -0.21, "v": 49.7}])).mark_square(
            size=49, color="#8b0000", opacity=1).encode(x=X(), y=Y()))
    if i == 4:
        layers.append(text_layer([{"t": 14.985, "v": -0.5, "s": "Time"}], NARROW, 13, align="left"))
    for (a, b, c, d) in MASKS[i]:
        layers.append(alt.Chart(pd.DataFrame([{"t": a, "t2": b, "v": c, "v2": d}])).mark_rect(
            color="white").encode(x=X(), x2="t2:Q", y=Y(), y2="v2:Q"))
    if i == 4:
        layers.append(alt.Chart(pd.DataFrame([{"t": 1.61, "t2": 2.11, "v": 21.0}])).mark_rule(
            color="#999999", strokeDash=[2, 4], strokeWidth=1).encode(x=X(), x2="t2:Q", y=Y()))
    tt, tv = TITLE_POS[i]
    layers.append(text_layer([{"t": tt, "v": tv, "s": TITLES[i]}], SERIF, 28, weight="bold"))
    return alt.layer(*layers).properties(width=W, height=H)


panels = [
    panel(0, [RAW], RAW_LABELS, RAW_LEADERS),
    panel(1, [STIR], STIR_LABELS, STIR_LEADERS),
    panel(2, [STEAM_A, STEAM_B], STEAM_LABELS, STEAM_LEADERS),
    panel(3, [MICRO], MICRO_LABELS, MICRO_LEADERS),
    panel(4, [BOIL], BOIL_LABELS, BOIL_LEADERS),
]

chart = alt.vconcat(*panels, spacing=SPACING, bounds="flush").properties(padding=0).configure_view(stroke=None)
chart.save("out.html", embed_options={"renderer": "svg", "actions": False})
